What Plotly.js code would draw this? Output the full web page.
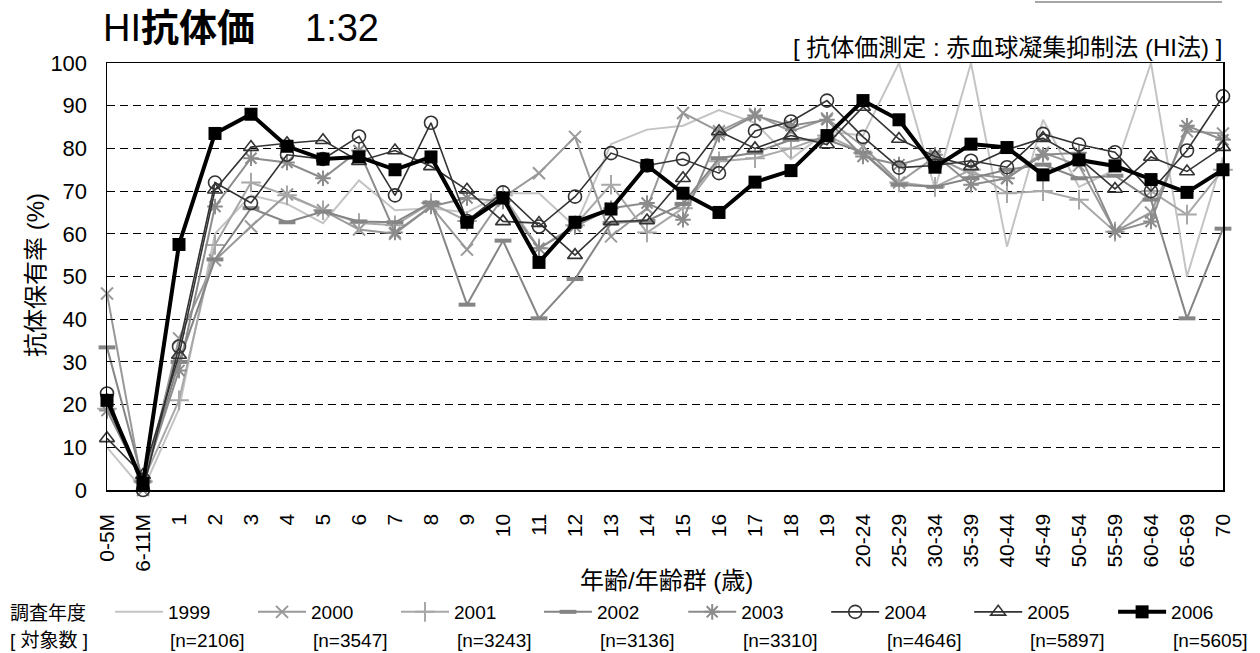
<!DOCTYPE html>
<html>
<head>
<meta charset="utf-8">
<script src="https://cdn.plot.ly/plotly-3.0.1.min.js"></script>
<style>html,body{margin:0;padding:0;background:#fff;}#chart{width:1260px;height:653px;}</style>
</head>
<body>
<div id="chart"></div>
<script>
const categories = ['0-5M','6-11M','1','2','3','4','5','6','7','8','9','10','11','12','13','14','15','16','17','18','19','20-24','25-29','30-34','35-39','40-44','45-49','50-54','55-59','60-64','65-69','70'];

const years = ['1999','2000','2001','2002','2003','2004','2005','2006'];
const nCounts = ['2106','3547','3243','3136','3310','4646','5897','5605'];

const v1999 = [10, 0, 19, 60, 69, 67, 62.5, 72.5, 65.5, 66, 65, 69.5, 69.5, 61.7, 81, 84.4, 85.3, 89, 86, 77.5, 84, 83, 100, 70.5, 100, 57, 86.7, 71, 75, 100, 50, 78];
const v2000 = [46, 0, 35.5, 53.8, 61.7, 69.2, 65.5, 61, 60, 66.4, 56.3, 68.5, 74.2, 82.7, 59.4, 66, 88.3, 84, 88, 84, 87, 80.5, 72, 78, 74, 73, 79, 76, 60.5, 65, 84, 83.5];
const v2001 = [19, 2, 21, 57.4, 72, 69, 65.5, 62.5, 62, 67.2, 63, 69, 56.6, 62, 71.5, 60.3, 66, 77, 77.7, 80, 83, 79, 72, 71, 75, 69.5, 70, 68, 60.5, 70, 64.5, 75];
const v2002 = [33.4, 2, 30, 54, 66, 62.7, 65.2, 62.9, 62.7, 67.3, 43.4, 58.4, 40.2, 49.4, 62.5, 63, 67, 77.7, 79, 82, 82, 79, 71.5, 71, 73, 75, 76.2, 73, 73.6, 68, 40.2, 61.2];
const v2003 = [18.6, 2, 28, 66.4, 77.7, 76.7, 73, 79.5, 60.3, 66.4, 68.4, 67.6, 56.6, 61.7, 66, 67.2, 63.3, 83.2, 87.7, 85.3, 86.7, 78.1, 76.2, 78.5, 71.5, 73, 78.5, 79, 60.5, 62.9, 85.3, 82];
const v2004 = [22.6, 0, 33.6, 72, 67.2, 78.5, 77.5, 82.8, 69, 86, 63, 69.7, 61.7, 68.7, 78.9, 76, 77.5, 74.2, 84.1, 86.3, 91.2, 82.7, 75.5, 76, 77.1, 75.6, 83.4, 80.9, 79.1, 70, 79.5, 92.2];
const v2005 = [12.1, 3.5, 31.6, 70.3, 80.3, 81.2, 81.9, 77, 79.5, 75.8, 70.3, 62.9, 62.5, 55, 62.9, 63.1, 73, 84, 80, 83, 80.9, 89.7, 82.2, 78.1, 75.8, 79.7, 82.4, 77.7, 70.5, 78, 74.6, 80.3];
const v2006 = [21, 1.5, 57.5, 83.5, 88, 80.5, 77.5, 78, 75, 78, 62.7, 68.4, 53.3, 62.7, 65.8, 76, 69.5, 65, 72.1, 74.8, 83, 91.2, 86.7, 75.6, 81, 80.2, 73.8, 77.3, 75.9, 72.7, 69.7, 75];

const seriesValues = [v1999, v2000, v2001, v2002, v2003, v2004, v2005, v2006];

const styles = [
  {color:'#c4c4c4', width:2, symbol:null},
  {color:'#999999', width:2, symbol:'x-thin-open', size:12, mlw:2},
  {color:'#a8a8a8', width:2, symbol:'cross-thin-open', size:14, mlw:2},
  {color:'#858585', width:2, symbol:'line-ew-open', size:12, mlw:4},
  {color:'#8c8c8c', width:2, symbol:'asterisk-open', size:13, mlw:2},
  {color:'#333333', width:1.6, symbol:'circle-open', size:13, mlw:1.6},
  {color:'#333333', width:1.6, symbol:'triangle-up-open', size:13, mlw:1.6},
  {color:'#000000', width:4, symbol:'square', size:13, mlw:0}
];
// which legend box each year goes in (split so the row never wraps)
const legendGroupOf = ['legend','legend','legend','legend','legend2','legend2','legend2','legend3'];

const FONT = 'Liberation Sans, Arial, Noto Sans CJK JP, sans-serif';

const traces = years.map((yr, i) => {
  const s = styles[i];
  const t = {
    type:'scatter', x: categories, y: seriesValues[i], name: yr,
    mode: s.symbol ? 'lines+markers' : 'lines',
    line: {color: s.color, width: s.width},
    legend: legendGroupOf[i],
    cliponaxis: false
  };
  if (s.symbol) {
    t.marker = {symbol: s.symbol, size: s.size, color: s.color,
      line: {color: s.color, width: s.mlw}};
  }
  return t;
});

// pixel helpers for text placement (plot area 107..1223 x, 63..490 y)
const L = 107, R = 1223, T = 63, B = 490;
const px = x => (x - L) / (R - L);
const py = y => (B - y) / (B - T);
const STEP = 143.3;

const annotations = [
  {text:'1:32', xref:'paper', yref:'paper', x:px(303), y:py(28), xanchor:'left', yanchor:'middle', showarrow:false, font:{size:38, color:'#000', family:FONT}},
  {text:'[ 抗体価測定 : 赤血球凝集抑制法 (HI法) ]', xref:'paper', yref:'paper', x:px(1224), y:py(48), xanchor:'right', yanchor:'middle', showarrow:false, font:{size:24, color:'#000', family:FONT}},
  {text:'年齢/年齢群 (歳)', xref:'paper', yref:'paper', x:px(666), y:py(580), xanchor:'center', yanchor:'middle', showarrow:false, font:{size:24, color:'#000', family:FONT}},
  {text:'抗体保有率 (%)', xref:'paper', yref:'paper', x:px(35), y:py(275), xanchor:'center', yanchor:'middle', textangle:-90, showarrow:false, font:{size:24, color:'#000', family:FONT}},
  {text:'調査年度', xref:'paper', yref:'paper', x:px(8), y:py(613), xanchor:'left', yanchor:'middle', showarrow:false, font:{size:19, color:'#000', family:FONT}},
  {text:'[ 対象数 ]', xref:'paper', yref:'paper', x:px(8), y:py(640), xanchor:'left', yanchor:'middle', showarrow:false, font:{size:19, color:'#000', family:FONT}}
];
nCounts.forEach((n, i) => {
  annotations.push({text:'[n=' + n + ']', xref:'paper', yref:'paper', x:px(168 + STEP*i), y:py(640), xanchor:'left', yanchor:'middle', showarrow:false, font:{size:19, color:'#000', family:FONT}});
});

function legendBox(startIndex) {
  return {orientation:'h', xref:'container', yref:'container', x:(110 + STEP*startIndex)/1260, y:1-593/653,
    xanchor:'left', yanchor:'top', itemwidth:48, entrywidth:80,
    font:{size:19, color:'#000', family:FONT}, bgcolor:'rgba(0,0,0,0)', itemclick:false};
}

const layout = {
  width:1260, height:653,
  margin:{l:L, r:1260-R, t:T, b:653-B},
  paper_bgcolor:'#fff', plot_bgcolor:'#fff',
  font:{family:FONT, color:'#000'},
  title:{text:'HI<b>抗体価</b>', x:103/1260, xanchor:'left', xref:'container', y:1-28/653, yanchor:'middle', yref:'container', font:{size:38, color:'#000', family:FONT}},
  showlegend:true,
  legend: legendBox(0),
  legend2: legendBox(4),
  legend3: legendBox(7),
  xaxis:{type:'category', range:[0,31], tickangle:-90, showline:true, mirror:true, linecolor:'#000', linewidth:1.5,
    showgrid:false, ticks:'', tickfont:{size:21, color:'#000', family:FONT}, ticklabelstandoff:14},
  yaxis:{range:[0,100], dtick:10, showline:true, mirror:true, linecolor:'#000', linewidth:1.5,
    showgrid:true, gridcolor:'#000', gridwidth:1, griddash:'8px,5px', zeroline:false,
    ticks:'inside', ticklen:7, tickcolor:'#000', tickfont:{size:22, color:'#000', family:FONT}, ticklabelstandoff:14},
  shapes:[{type:'line', xref:'paper', yref:'paper', x0:px(1035), x1:px(1222), y0:py(2), y1:py(2), line:{color:'#888', width:1.5}}],
  annotations: annotations
};

Plotly.newPlot('chart', traces, layout, {displayModeBar:false, staticPlot:true});
</script>
</body>
</html>
